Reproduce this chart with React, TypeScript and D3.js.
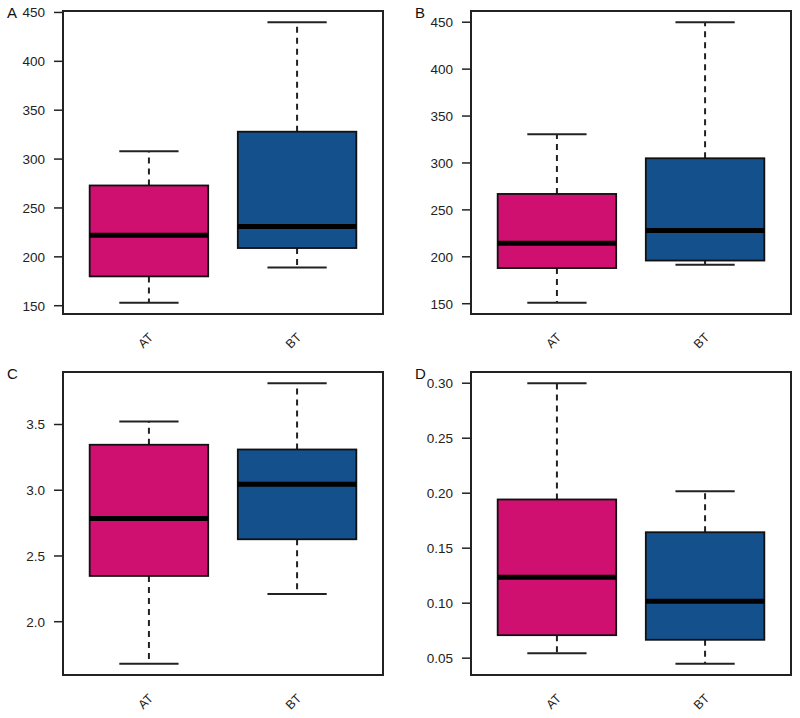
import React from "react";
import * as d3 from "d3";

// ---- data (five-number summaries: whisker low, Q1, median, Q3, whisker high) ----
const groups = ["AT", "BT"];
const panelLetters = ["A", "B", "C", "D"];

const statsA_AT = [153, 180, 222, 273, 308];
const statsA_BT = [189, 209, 231, 328, 440];
const statsB_AT = [151, 188, 214.5, 267, 330.5];
const statsB_BT = [191.5, 196, 228, 305, 450];
const statsC_AT = [1.68, 2.348, 2.785, 3.346, 3.523];
const statsC_BT = [2.211, 2.627, 3.046, 3.31, 3.814];
const statsD_AT = [0.0545, 0.0709, 0.1236, 0.1943, 0.3];
const statsD_BT = [0.0449, 0.0667, 0.1018, 0.1645, 0.2018];

const ticksAB = [150, 200, 250, 300, 350, 400, 450];
const ticksC = [2.0, 2.5, 3.0, 3.5];
const ticksD = [0.05, 0.1, 0.15, 0.2, 0.25, 0.3];

const groupColors = ["#CF1070", "#13508C"];

const panels = [
  { letter: panelLetters[0], stats: [statsA_AT, statsA_BT], ticks: ticksAB, fmt: "d" },
  { letter: panelLetters[1], stats: [statsB_AT, statsB_BT], ticks: ticksAB, fmt: "d" },
  { letter: panelLetters[2], stats: [statsC_AT, statsC_BT], ticks: ticksC, fmt: ".1f" },
  { letter: panelLetters[3], stats: [statsD_AT, statsD_BT], ticks: ticksD, fmt: ".2f" },
];

// ---- layout ----
const colLeft = [63, 471];
const rowTop = [11, 372];
const plotW = 320;
const plotH = 303;
const FONT = "'Liberation Sans', Arial, Helvetica, sans-serif";

function Panel({ p, left, top }) {
  const all = p.stats.flat();
  const [mn, mx] = d3.extent(all);
  const pad = (mx - mn) * 0.04;
  const y = d3.scaleLinear().domain([mn - pad, mx + pad]).range([top + plotH, top]);
  const n = groups.length;
  const xpad = n * 0.04;
  const x = d3.scaleLinear().domain([0.5 - xpad, n + 0.5 + xpad]).range([left, left + plotW]);
  const unit = x(1) - x(0);
  const boxW = unit * 0.8;
  const capW = unit * 0.4;
  const f = d3.format(p.fmt);
  return (
    <g>
      <text x={left - 56} y={top + 7} fontSize={15} fontFamily={FONT} fill="#111">
        {p.letter}
      </text>
      {p.ticks.map((t) => (
        <g key={t}>
          <line x1={left - 9} x2={left} y1={y(t)} y2={y(t)} stroke="#222" strokeWidth={1.5} />
          <text
            x={left - 18}
            y={y(t)}
            dy="0.36em"
            textAnchor="end"
            fontSize={13.5}
            fontFamily={FONT}
            fill="#222"
          >
            {f(t)}
          </text>
        </g>
      ))}
      {p.stats.map((s, i) => {
        const cx = x(i + 1);
        const [lo, q1, med, q3, hi] = s;
        return (
          <g key={i}>
            <line x1={cx} x2={cx} y1={y(q3)} y2={y(hi)} stroke="#222" strokeWidth={2} strokeDasharray="6,5" />
            <line x1={cx} x2={cx} y1={y(q1)} y2={y(lo)} stroke="#222" strokeWidth={2} strokeDasharray="6,5" />
            <line x1={cx - capW / 2} x2={cx + capW / 2} y1={y(hi)} y2={y(hi)} stroke="#222" strokeWidth={2} />
            <line x1={cx - capW / 2} x2={cx + capW / 2} y1={y(lo)} y2={y(lo)} stroke="#222" strokeWidth={2} />
            <rect
              x={cx - boxW / 2}
              y={y(q3)}
              width={boxW}
              height={y(q1) - y(q3)}
              fill={groupColors[i]}
              stroke="#111"
              strokeWidth={1.8}
            />
            <line x1={cx - boxW / 2} x2={cx + boxW / 2} y1={y(med)} y2={y(med)} stroke="#000" strokeWidth={5} />
            <text
              transform={`translate(${cx + 5},${top + plotH + 24}) rotate(-45)`}
              textAnchor="end"
              fontSize={12.5}
              fontFamily={FONT}
              fill="#222"
            >
              {groups[i]}
            </text>
          </g>
        );
      })}
      <rect x={left} y={top} width={plotW} height={plotH} fill="none" stroke="#222" strokeWidth={2} />
    </g>
  );
}

export default function App() {
  return (
    <svg
      width={800}
      height={718}
      style={{ position: "absolute", left: 0, top: 0, background: "#fff" }}
    >
      <rect x={0} y={0} width={800} height={718} fill="#fff" />
      {panels.map((p, i) => (
        <Panel key={p.letter} p={p} left={colLeft[i % 2]} top={rowTop[Math.floor(i / 2)]} />
      ))}
    </svg>
  );
}
